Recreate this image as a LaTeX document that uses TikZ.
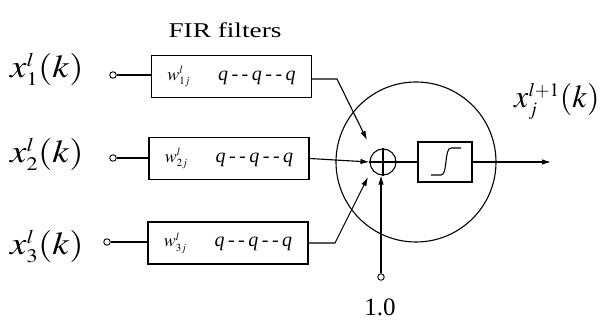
\documentclass[tikz,border=0pt]{standalone}
\usepackage{mathptmx}
\usepackage{fontspec}
\setmainfont{Liberation Serif}
\usetikzlibrary{arrows.meta}
\newcommand{\qseq}{\textit{q}\kern3.5pt-\kern3.5pt-\kern3.5pt\textit{q}\kern3.5pt-\kern3.5pt-\kern3.5pt\textit{q}}
\newcommand{\wlab}[1]{{\fontsize{18}{20}\selectfont$w^{\scriptscriptstyle l}_{\scriptscriptstyle #1}$}}
\newcommand{\xlab}[2]{{\fontsize{32}{36}\selectfont\scalebox{1.15}[1]{$x^{\scriptscriptstyle #2}_{\scriptscriptstyle #1}(k)$}}}
\newcommand{\xout}[2]{{\fontsize{32}{36}\selectfont$x^{\scriptscriptstyle #2}_{\scriptscriptstyle #1}(k)$}}
\begin{document}
\begin{tikzpicture}[x=1pt,y=-1pt,
  line/.style={line width=1.1pt},
  arr/.style={line width=1.1pt,-{Latex[length=9pt,width=5.5pt]}},
  filt/.style={draw,line width=1.1pt,minimum width=160pt,minimum height=42pt,inner sep=0pt,font=\fontsize{20}{24}\selectfont},
  term/.style={circle,draw,line width=0.9pt,minimum size=6.5pt,inner sep=0pt,fill=white},
  lab/.style={anchor=base west,inner sep=0pt}]
\path[use as bounding box] (0,0) rectangle (606,320);
\node (title) at (225,30) {\fontsize{21}{24}\selectfont\scalebox{1.3}[1]{FIR filters}};
% input labels
\node[lab] (l1) at (10,78) {\xlab{1}{l}};
\node[lab] (l2) at (10,163) {\xlab{2}{l}};
\node[lab] (l3) at (10,255) {\xlab{3}{l}};
% terminals
\node[term] (t1) at (113,75) {};
\node[term] (t2) at (113,158) {};
\node[term] (t3) at (107,242) {};
% filters
\node[filt] (f1) at (231.5,76.5) {\wlab{1j}\hspace{28pt}\qseq};
\node[filt] (f2) at (229,158.5) {\wlab{2j}\hspace{28pt}\qseq};
\node[filt] (f3) at (228,243) {\wlab{3j}\hspace{28pt}\qseq};
% neuron
\node[circle,draw,line width=1.1pt,minimum size=160pt,inner sep=0pt] (neuron) at (416,162) {};
\node[circle,draw,line width=1.1pt,minimum size=26pt,inner sep=0pt] (sum) at (383,162) {};
\draw[line width=1.1pt] (sum.west) -- (sum.east) (sum.north) -- (sum.south);
\node[draw,line width=1.1pt,minimum width=54pt,minimum height=40pt,inner sep=0pt] (sig) at (445,162) {};
\draw[line width=1.1pt] (431,175) -- (441,175) .. controls (448,175) and (444,148) .. (451,148) -- (461,148);
% connections
\draw[line] (t1) -- (t1 -| f1.west);
\draw[line] (t2) -- (t2 -| f2.west);
\draw[line] (t3) -- (t3 -| f3.west);
\coordinate (a1) at (367,140);
\coordinate (a3) at (368,177);
\coordinate (out) at (551,162);
\coordinate (k1) at (337,79);
\coordinate (k3) at (335,243);
\draw[arr] (f1.east |- k1) -- (k1) -- (a1);
\draw[arr] (f2.east) -- (sum.west);
\draw[arr] (f3.east |- k3) -- (k3) -- (a3);
\node[term] (bias) at (381,277) {};
\draw[arr] (bias) -- (bias |- sum.south);
\node (one) at (380,307) {\fontsize{25}{28}\selectfont 1.0};
\draw[line] (sum.east) -- (sig.west);
\draw[arr] (sig.east) -- (out);
\node[lab] (outlab) at (514,108) {\xout{j}{l+1}};
\end{tikzpicture}
\end{document}
